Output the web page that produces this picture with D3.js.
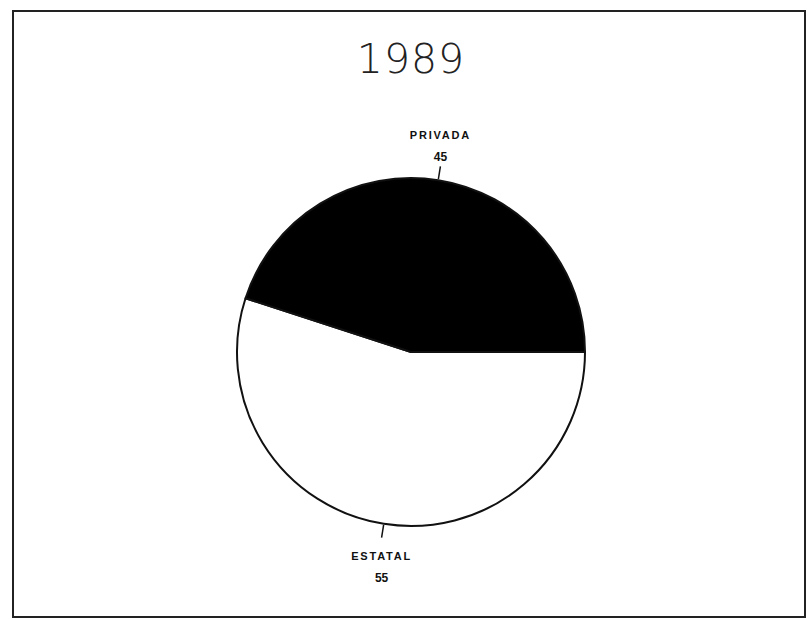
<!DOCTYPE html>
<html>
<head>
<meta charset="utf-8">
<script src="https://cdn.jsdelivr.net/npm/d3@7"></script>
<style>
  html, body { margin: 0; padding: 0; background: #fff; }
  svg { display: block; }
</style>
</head>
<body>
<svg id="chart" width="811" height="620"></svg>
<script>
// ---- data ----
const title = "1989";
const categories = ["ESTATAL", "PRIVADA"];
const values = [55, 45];
const colors = ["#ffffff", "#000000"];

// ---- layout ----
const svg = d3.select("#chart");
const W = 811, H = 620;
const cx = 411, cy = 352, r = 174;

svg.append("rect").attr("width", W).attr("height", H).attr("fill", "#fff");

// frame
svg.append("rect")
  .attr("x", 13).attr("y", 11).attr("width", 792).attr("height", 606)
  .attr("fill", "none").attr("stroke", "#222").attr("stroke-width", 2);

// title
svg.append("text")
  .attr("x", cx).attr("y", 73)
  .attr("text-anchor", "middle")
  .attr("font-family", "DejaVu Sans")
  .attr("font-weight", 200)
  .attr("font-size", 41)
  .attr("letter-spacing", 1)
  .attr("fill", "#222")
  .text(title);

const data = categories.map((c, i) => ({ cat: c, value: values[i], color: colors[i] }));

const pie = d3.pie()
  .sort(null)
  .value(d => d.value)
  .startAngle(Math.PI / 2)
  .endAngle(Math.PI / 2 + 2 * Math.PI);

const arcs = pie(data);
const arc = d3.arc().innerRadius(0).outerRadius(r);

const g = svg.append("g").attr("transform", `translate(${cx},${cy})`);

g.selectAll("path.slice")
  .data(arcs)
  .join("path")
  .attr("class", "slice")
  .attr("d", arc)
  .attr("fill", d => d.data.color)
  .attr("stroke", "#111")
  .attr("stroke-width", 2)
  .attr("stroke-linejoin", "round");

// label ticks and labels
arcs.forEach(a => {
  const mid = (a.startAngle + a.endAngle) / 2;
  const sx = Math.sin(mid), sy = -Math.cos(mid);
  const x1 = sx * (r + 1), y1 = sy * (r + 1);
  const x2 = sx * (r + 14), y2 = sy * (r + 14);
  g.append("line")
    .attr("x1", x1).attr("y1", y1).attr("x2", x2).attr("y2", y2)
    .attr("stroke", "#111").attr("stroke-width", 1.5);

  const top = sy < 0;
  const lx = sx * (r + 14);
  const nameY = top ? y2 - 27 : y2 + 22;
  const valY = top ? y2 - 5 : y2 + 44;
  g.append("text")
    .attr("x", lx).attr("y", nameY)
    .attr("text-anchor", "middle")
    .attr("font-family", "Liberation Sans, Arial, sans-serif")
    .attr("font-weight", "bold")
    .attr("font-size", 11)
    .attr("letter-spacing", 1.8)
    .attr("fill", "#111")
    .text(a.data.cat);
  g.append("text")
    .attr("x", lx).attr("y", valY)
    .attr("text-anchor", "middle")
    .attr("font-family", "Liberation Sans, Arial, sans-serif")
    .attr("font-weight", "bold")
    .attr("font-size", 12)
    .attr("fill", "#111")
    .text(a.data.value);
});
</script>
</body>
</html>
